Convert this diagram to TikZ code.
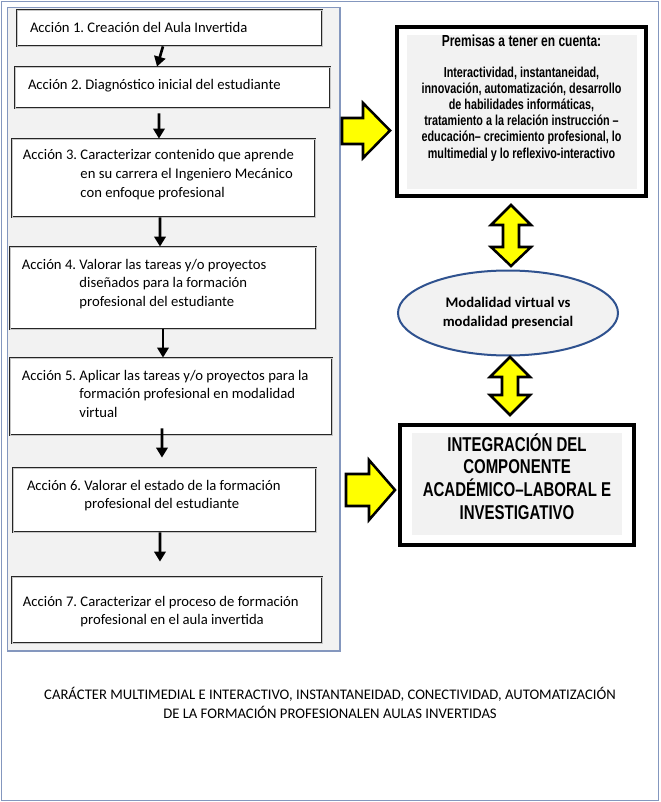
\documentclass[tikz,border=0pt]{standalone}
\usepackage{fontspec}
\setmainfont{Carlito}
\newfontfamily\narrowfont[FakeStretch=0.82]{Liberation Sans}
\newfontfamily\narrowerfont[FakeStretch=0.75]{Liberation Sans}
\usetikzlibrary{arrows.meta,calc,shapes.geometric}
\definecolor{framec}{RGB}{132,151,190}
\definecolor{panelgray}{RGB}{242,242,242}
\definecolor{ellblue}{RGB}{47,82,143}
\definecolor{ayellow}{RGB}{255,255,0}
\newcommand\accbox[5]{\parbox[c][#2][c]{#1}{\hspace*{#3}\begin{tabular}{@{}l@{\ }l@{}}#5\end{tabular}\par\vspace{#4}}}
\tikzset{
  accion/.style={draw=black!85, double=gray!45, double distance=0.5pt, line width=0.6pt,
    fill=white, inner sep=0pt, font=\fontsize{11}{14}\selectfont},
  blk/.style={line width=2pt, -{Triangle[width=8.5pt,length=7.5pt]}},
  yarrow/.style={fill=ayellow, draw=black, line width=1.9pt, line join=miter},
  framebox/.style={draw=black, line width=3pt, fill=white, inner sep=0pt},
  premisa/.style={framebox, path picture={\fill[panelgray]
      ([shift={(7.5pt,-6pt)}]path picture bounding box.north west) rectangle
      ([shift={(-6.75pt,5.25pt)}]path picture bounding box.south east);}},
  integ/.style={framebox, path picture={\fill[panelgray]
      ([shift={(9pt,-6pt)}]path picture bounding box.north west) rectangle
      ([shift={(-9pt,7.5pt)}]path picture bounding box.south east);}},
  modal/.style={ellipse, draw=ellblue, line width=1.5pt, fill=panelgray, inner sep=0pt,
    minimum width=165pt, minimum height=63.75pt, align=center,
    font=\bfseries\fontsize{11}{14.25}\selectfont},
  caption/.style={align=center, inner sep=0pt, font=\fontsize{11}{14.25}\selectfont}
}
\begin{document}
\begin{tikzpicture}[x=0.75pt,y=-0.75pt]
\useasboundingbox (0,0) rectangle (660,802);
% frames
\draw[framec, line width=1.2pt] (1.5,1.5) rectangle (658.5,800.5);
\draw[framec, line width=0.8pt, fill=panelgray] (7.5,7.5) rectangle (340,651);
% action boxes
\node[accion] (b1) at (169.5,28) {\accbox{228.75pt}{27pt}{9.75pt}{-1pt}{Acción 1. & Creación del Aula Invertida}};
\node[accion] (b2) at (172.5,87.5) {\accbox{236.25pt}{30.75pt}{9.75pt}{2.5pt}{Acción 2. & Diagnóstico inicial del estudiante}};
\node[accion] (b3) at (163.5,178) {\accbox{227.25pt}{58.5pt}{8.25pt}{5pt}{Acción 3. & Caracterizar contenido que aprende\\ & en su carrera el Ingeniero Mecánico\\ & con enfoque profesional}};
\node[accion] (b4) at (163,288) {\accbox{229.5pt}{61.5pt}{9pt}{6pt}{Acción 4. & Valorar las tareas y/o proyectos\\ & diseñados para la formación\\ & profesional del estudiante}};
\node[accion] (b5) at (171,396.5) {\accbox{241.5pt}{57.75pt}{9pt}{2.2pt}{Acción 5. & Aplicar las tareas y/o proyectos para la\\ & formación profesional en modalidad\\ & virtual}};
\node[accion] (b6) at (164.5,500) {\accbox{227.25pt}{48pt}{10.5pt}{6.5pt}{Acción 6. & Valorar el estado de la formación\\ & profesional del estudiante}};
\node[accion] (b7) at (167,610) {\accbox{232.5pt}{49.5pt}{8.25pt}{-2.5pt}{Acción 7. & Caracterizar el proceso de formación\\ & profesional en el aula invertida}};
% black arrows
\draw[blk] ([xshift=-4.9pt]b1.south) -- ([xshift=-11.6pt]b2.north);
\draw[blk, shorten <=3.75pt] ([xshift=-10.1pt]b2.south) -- ([xshift=-3.4pt]b3.north);
\draw[blk] ([xshift=-2.6pt]b3.south) -- ([xshift=-2.25pt]b4.north);
\draw[blk] (b4.south) -- ([xshift=-6pt]b5.north);
\draw[blk, shorten <=-5.25pt, shorten >=7.5pt] ([xshift=-6.75pt]b5.south) -- ([xshift=-1.9pt]b6.north);
\draw[blk, shorten >=11.25pt] ([xshift=-3.4pt]b6.south) -- ([xshift=-5.25pt]b7.north);
% premisas box
\node[premisa] (prem) at (521.5,111.5) {\parbox[c][126.75pt][t]{186.75pt}{\centering\narrowerfont\bfseries
  {\fontsize{12}{13}\selectfont\rule{0pt}{15pt}Premisas a tener en cuenta:\par}
  \vspace{10.4pt}
  {\fontsize{10.8}{12.15}\selectfont Interactividad, instantaneidad,\\
  innovación, automatización, desarrollo\\
  de habilidades informáticas,\\
  tratamiento a la relación instrucción –\\
  educación– crecimiento profesional, lo\\
  multimedial y lo reflexivo-interactivo\par}}};
% ellipse
\node[modal] (modal) at (508,313) {Modalidad virtual vs\\modalidad presencial};
% integration box
\node[integ] (integ) at (517,485) {\parbox[c][90pt][t]{175.5pt}{\centering\narrowerfont\bfseries
  \fontsize{15}{17}\selectfont\rule{0pt}{19.5pt}INTEGRACIÓN DEL\\
  COMPONENTE\\
  ACADÉMICO–LABORAL E\\
  INVESTIGATIVO\par}};
% yellow block arrows
\draw[yarrow] (342,118) -- (363,118) -- (363,103) -- (390,130.5) -- (363,158) -- (363,144) -- (342,144) -- cycle;
\draw[yarrow] (346,474) -- (369,474) -- (369,460) -- (395,490) -- (369,520) -- (369,506) -- (346,506) -- cycle;
% double arrows
\draw[yarrow] (511,205) -- (531,225) -- (519,225) -- (519,247) -- (531,247) -- (511,266) -- (491,247) -- (503,247) -- (503,225) -- (491,225) -- cycle;
\draw[yarrow] (510,357) -- (530,377) -- (518,377) -- (518,395) -- (530,395) -- (510,415) -- (490,395) -- (502,395) -- (502,377) -- (490,377) -- cycle;
% caption
\node[caption] (cap) at (330,702.5) {CARÁCTER MULTIMEDIAL E INTERACTIVO, INSTANTANEIDAD, CONECTIVIDAD, AUTOMATIZACIÓN\\DE LA FORMACIÓN PROFESIONALEN AULAS INVERTIDAS};
\end{tikzpicture}
\end{document}
